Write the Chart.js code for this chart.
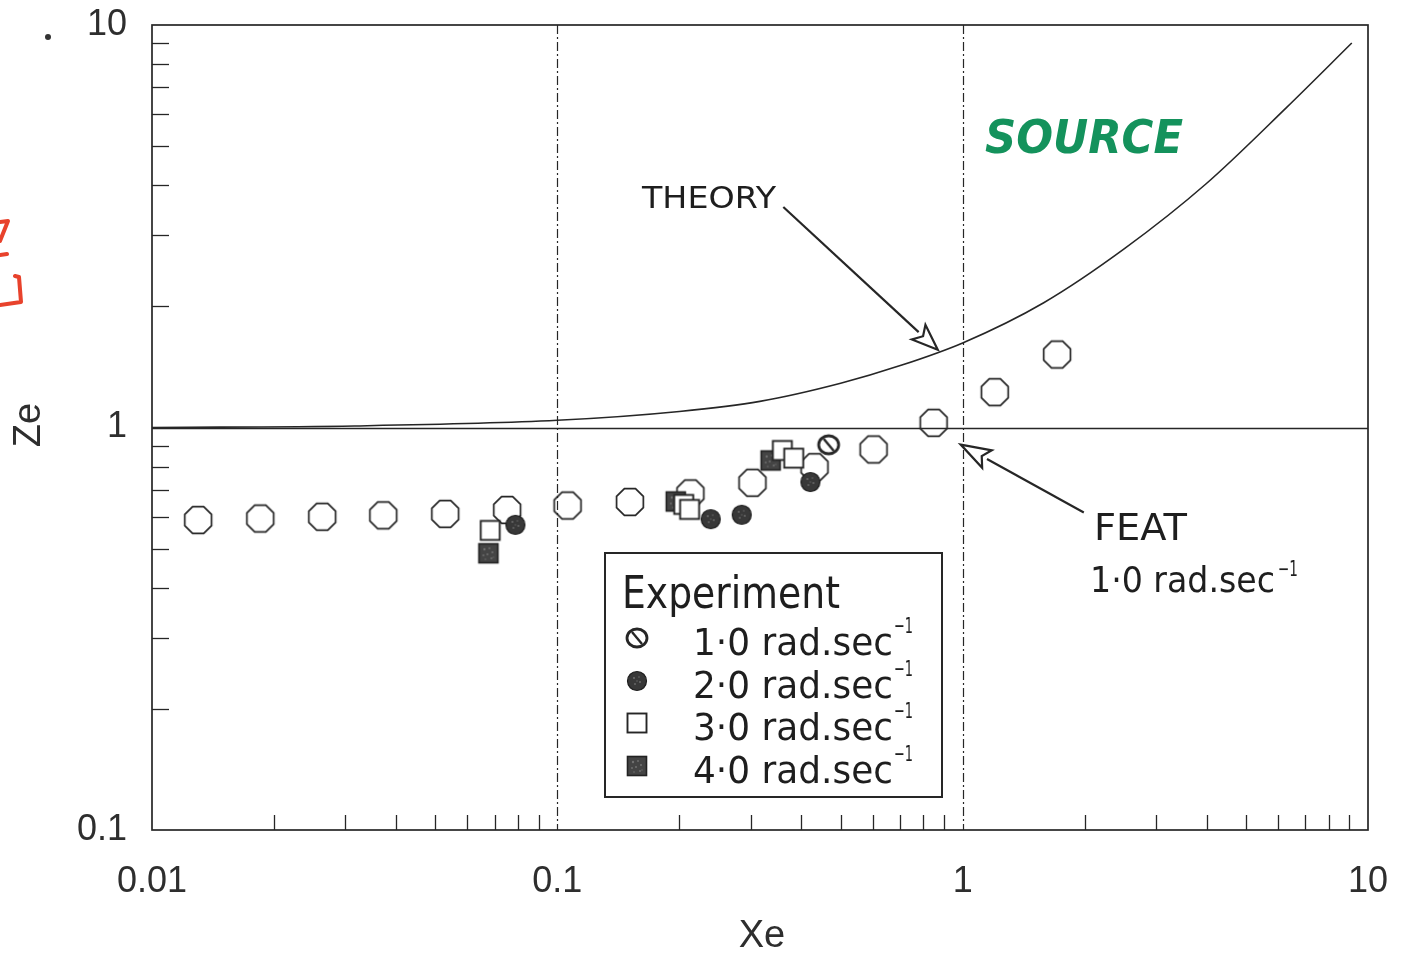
<!DOCTYPE html>
<html>
<head>
<meta charset="utf-8">
<script src="https://cdn.jsdelivr.net/npm/chart.js@4.4.1/dist/chart.umd.min.js"></script>
<style>
  html, body { margin: 0; padding: 0; background: #ffffff; }
  #wrap { width: 1408px; height: 957px; }
</style>
</head>
<body>
<div id="wrap"><canvas id="c" width="1408" height="957"></canvas></div>
<script>
// Axis decades and minor tick multipliers
const xDecades = [0.01, 0.1, 1, 10];
const yDecades = [0.1, 1, 10];
const minorSteps = [2, 3, 4, 5, 6, 7, 8, 9];

// Theory curve
const theoryXe = [0.01, 0.0316, 0.1, 0.2, 0.316, 0.5, 0.708, 1.0, 1.585, 2.512, 3.981, 6.31, 9.12];
const theoryZe = [1.0, 1.009, 1.042, 1.096, 1.161, 1.288, 1.429, 1.622, 2.042, 2.786, 4.027, 6.252, 9.02];

// FEAT, 1.0 rad/s
const featXe = [0.013, 0.0185, 0.0263, 0.0372, 0.0529, 0.0752, 0.106, 0.151, 0.213, 0.303, 0.431, 0.603, 0.848, 1.20, 1.71];
const featZe = [0.589, 0.594, 0.600, 0.605, 0.610, 0.624, 0.640, 0.653, 0.686, 0.729, 0.797, 0.882, 1.027, 1.224, 1.518];

// Experiment
const exp1Xe = [0.467];
const exp1Ze = [0.906];
const exp2Xe = [0.0788, 0.239, 0.285, 0.421];
const exp2Ze = [0.573, 0.592, 0.607, 0.732];
const exp3Xe = [0.0683, 0.205, 0.212, 0.359, 0.383];
const exp3Ze = [0.555, 0.644, 0.626, 0.877, 0.839];
const exp4Xe = [0.0676, 0.196, 0.336];
const exp4Ze = [0.487, 0.655, 0.828];

// Legend entries
const legendLabels = ['1·0 rad.sec', '2·0 rad.sec', '3·0 rad.sec', '4·0 rad.sec'];

// Arrow endpoints (tail, tip) in data units
const theoryArrowXe = [0.361, 0.868];
const theoryArrowZe = [3.53, 1.56];
const featArrowXe = [1.99, 0.989];
const featArrowZe = [0.615, 0.907];

const INK = '#262626';
const pts = (xs, ys) => xs.map((x, i) => ({ x: x, y: ys[i] }));

// ---------- marker glyphs ----------
function makeCanvas(w, h, draw) {
  const c = document.createElement('canvas');
  c.width = w; c.height = h;
  draw(c.getContext('2d'), w, h);
  return c;
}
function speckle(g, cx, cy, spots) {
  g.fillStyle = 'rgba(150,150,150,0.55)';
  spots.forEach(s => { g.beginPath(); g.arc(cx + s[0], cy + s[1], s[2], 0, Math.PI * 2); g.fill(); });
}
const octagonMarker = makeCanvas(34, 34, (g, w, h) => {
  const r = 14.5;
  g.beginPath();
  for (let i = 0; i < 8; i++) {
    const a = Math.PI / 8 + i * Math.PI / 4;
    const px = w / 2 + r * Math.cos(a), py = h / 2 + r * Math.sin(a);
    i ? g.lineTo(px, py) : g.moveTo(px, py);
  }
  g.closePath();
  g.strokeStyle = INK; g.lineWidth = 1.7; g.stroke();
});
const slashMarker = makeCanvas(28, 26, (g, w, h) => {
  g.beginPath(); g.ellipse(w / 2, h / 2, 10, 9, 0, 0, Math.PI * 2);
  g.fillStyle = '#fff'; g.fill();
  g.strokeStyle = INK; g.lineWidth = 2.8; g.stroke();
  g.beginPath(); g.moveTo(w / 2 - 5, h / 2 - 6); g.lineTo(w / 2 + 5, h / 2 + 6);
  g.lineWidth = 2.4; g.stroke();
});
const dotMarker = makeCanvas(24, 24, (g, w, h) => {
  g.beginPath(); g.arc(w / 2, h / 2, 9.5, 0, Math.PI * 2);
  g.fillStyle = '#383838'; g.fill();
  g.strokeStyle = '#1e1e1e'; g.lineWidth = 1.2; g.stroke();
  speckle(g, w / 2, h / 2, [[-3, -3, 1.1], [2, -4, 0.8], [3, 1, 1.0], [-2, 3, 0.9], [0, 0, 0.7]]);
});
const openSquareMarker = makeCanvas(24, 24, (g, w, h) => {
  g.fillStyle = '#fff'; g.fillRect(2.5, 2.5, 19, 19);
  g.strokeStyle = INK; g.lineWidth = 1.9; g.strokeRect(2.5, 2.5, 19, 19);
});
const filledSquareMarker = makeCanvas(24, 24, (g, w, h) => {
  g.fillStyle = '#444'; g.fillRect(2.5, 2.5, 19, 19);
  g.strokeStyle = '#222'; g.lineWidth = 1.6; g.strokeRect(2.5, 2.5, 19, 19);
  speckle(g, w / 2, h / 2, [[-4, -4, 1.2], [1, -5, 0.9], [4, -1, 1.1], [-5, 2, 0.9], [-1, 1, 1.0], [3, 5, 1.0], [-3, 6, 0.8], [5, 4, 0.7]]);
});

// ---------- helpers ----------
function fitText(g, text, x, baseline, width, font) {
  g.save();
  g.font = font;
  const w = g.measureText(text).width;
  g.translate(x, baseline);
  g.scale(width / w, 1);
  g.fillText(text, 0, 0);
  g.restore();
}
function arrow(g, x0, y0, x1, y1, len, half) {
  const dx = x1 - x0, dy = y1 - y0, d = Math.hypot(dx, dy);
  const ux = dx / d, uy = dy / d, nx = -uy, ny = ux;
  const bx = x1 - ux * len, by = y1 - uy * len;
  g.beginPath(); g.moveTo(x0, y0); g.lineTo(bx, by); g.stroke();
  g.beginPath();
  g.moveTo(x1, y1);
  g.lineTo(bx + nx * half, by + ny * half);
  g.lineTo(bx + ux * 6, by + uy * 6);
  g.lineTo(bx - nx * half, by - ny * half);
  g.closePath();
  g.fillStyle = '#fff'; g.fill(); g.stroke();
}

// ---------- frame, grid and minor ticks (under the data) ----------
const framePlugin = {
  id: 'frame',
  beforeDatasetsDraw(chart) {
    const g = chart.ctx, a = chart.chartArea, sx = chart.scales.x, sy = chart.scales.y;
    g.save();
    g.strokeStyle = INK;
    // dashed verticals at the inner decades
    g.lineWidth = 1.2; g.setLineDash([9, 3, 2, 3]);
    [0.1, 1].forEach(v => {
      const px = Math.round(sx.getPixelForValue(v)) + 0.5;
      g.beginPath(); g.moveTo(px, a.top); g.lineTo(px, a.bottom); g.stroke();
    });
    g.setLineDash([]);
    // solid line at Ze = 1
    g.lineWidth = 1.5;
    const py1 = Math.round(sy.getPixelForValue(1)) + 0.5;
    g.beginPath(); g.moveTo(a.left, py1); g.lineTo(a.right, py1); g.stroke();
    // minor ticks
    g.lineWidth = 1.3;
    xDecades.slice(0, 3).forEach(d => minorSteps.forEach(m => {
      const px = Math.round(sx.getPixelForValue(d * m)) + 0.5;
      g.beginPath(); g.moveTo(px, a.bottom); g.lineTo(px, a.bottom - 15); g.stroke();
    }));
    yDecades.slice(0, 2).forEach(d => minorSteps.forEach(m => {
      const py = Math.round(sy.getPixelForValue(d * m)) + 0.5;
      g.beginPath(); g.moveTo(a.left, py); g.lineTo(a.left + 17, py); g.stroke();
    }));
    // frame
    g.lineWidth = 1.7;
    g.strokeRect(a.left, a.top, a.right - a.left, a.bottom - a.top);
    g.restore();
  }
};

// ---------- titles, legend and annotations (over the data) ----------
const overlayPlugin = {
  id: 'overlay',
  afterDraw(chart) {
    const g = chart.ctx, sx = chart.scales.x, sy = chart.scales.y;
    g.save();
    // axis titles
    g.fillStyle = '#2e2e2e';
    g.font = '38px "Liberation Sans", Arial, sans-serif';
    g.textAlign = 'center'; g.textBaseline = 'middle';
    g.fillText('Xe', 762, 937);
    g.save(); g.translate(30, 425); g.rotate(-Math.PI / 2); g.fillText('Ze', 0, 0); g.restore();

    // legend box
    const lx = 605, ly = 553, lw = 337, lh = 244;
    g.fillStyle = '#fff'; g.fillRect(lx, ly, lw, lh);
    g.strokeStyle = INK; g.lineWidth = 2; g.strokeRect(lx, ly, lw, lh);
    g.fillStyle = '#1e1e1e'; g.textAlign = 'left'; g.textBaseline = 'alphabetic';
    fitText(g, 'Experiment', 622, 608, 218, '44px "DejaVu Sans", sans-serif');
    const glyphs = [slashMarker, dotMarker, openSquareMarker, filledSquareMarker];
    const rowBase = [655, 698, 740, 783];
    legendLabels.forEach((t, i) => {
      const gl = glyphs[i];
      g.drawImage(gl, 637 - gl.width / 2, rowBase[i] - 17 - gl.height / 2);
      fitText(g, t, 693, rowBase[i], 200, '38px "DejaVu Sans", sans-serif');
      fitText(g, '−1', 894, rowBase[i] - 22, 19, '22px "DejaVu Sans", sans-serif');
    });

    // arrows
    g.strokeStyle = INK; g.lineWidth = 2.2;
    arrow(g, sx.getPixelForValue(theoryArrowXe[0]), sy.getPixelForValue(theoryArrowZe[0]),
             sx.getPixelForValue(theoryArrowXe[1]), sy.getPixelForValue(theoryArrowZe[1]), 26, 10);
    arrow(g, sx.getPixelForValue(featArrowXe[0]), sy.getPixelForValue(featArrowZe[0]),
             sx.getPixelForValue(featArrowXe[1]), sy.getPixelForValue(featArrowZe[1]), 30, 10);

    // annotation text
    g.fillStyle = '#1e1e1e';
    fitText(g, 'THEORY', 642, 208, 134, '31px "DejaVu Sans", sans-serif');
    fitText(g, 'FEAT', 1094, 540, 93, '38px "DejaVu Sans", sans-serif');
    fitText(g, '1·0 rad.sec', 1090, 592, 185, '36px "DejaVu Sans", sans-serif');
    fitText(g, '−1', 1278, 576, 20, '21px "DejaVu Sans", sans-serif');

    // green note
    g.fillStyle = '#14925c';
    fitText(g, 'SOURCE', 985, 153, 198, 'italic bold 46px "DejaVu Sans", sans-serif');

    // red pen marks at the left edge
    g.strokeStyle = '#e8422c'; g.lineWidth = 4; g.lineCap = 'round'; g.lineJoin = 'round';
    g.beginPath();
    g.moveTo(0, 222); g.lineTo(8, 221); g.lineTo(0, 241);
    g.moveTo(0, 255); g.lineTo(7, 254);
    g.moveTo(15, 276); g.lineTo(19, 277); g.lineTo(21, 302); g.lineTo(0, 305);
    g.stroke();
    // stray ink dot
    g.fillStyle = '#333';
    g.beginPath(); g.arc(48, 37, 3, 0, Math.PI * 2); g.fill();
    g.restore();
  }
};

const tickFont = { family: '"Liberation Sans", Arial, sans-serif', size: 36 };

new Chart(document.getElementById('c'), {
  type: 'scatter',
  data: {
    datasets: [
      { label: 'Theory', type: 'line', data: pts(theoryXe, theoryZe), borderColor: INK, borderWidth: 1.6,
        pointRadius: 0, fill: false, cubicInterpolationMode: 'monotone', order: 6 },
      { label: 'FEAT 1.0 rad.sec-1', data: pts(featXe, featZe), pointStyle: octagonMarker, pointRadius: 14, order: 5 },
      { label: '4.0 rad.sec-1', data: pts(exp4Xe, exp4Ze), pointStyle: filledSquareMarker, pointRadius: 10, order: 4 },
      { label: '3.0 rad.sec-1', data: pts(exp3Xe, exp3Ze), pointStyle: openSquareMarker, pointRadius: 10, order: 3 },
      { label: '2.0 rad.sec-1', data: pts(exp2Xe, exp2Ze), pointStyle: dotMarker, pointRadius: 10, order: 2 },
      { label: '1.0 rad.sec-1', data: pts(exp1Xe, exp1Ze), pointStyle: slashMarker, pointRadius: 11, order: 1 }
    ]
  },
  options: {
    responsive: false,
    animation: false,
    events: [],
    layout: { padding: { top: 25, right: 40, left: 0, bottom: 0 } },
    plugins: { legend: { display: false }, tooltip: { enabled: false } },
    scales: {
      x: {
        type: 'logarithmic', min: 0.01, max: 10,
        afterBuildTicks: s => { s.ticks = xDecades.map(v => ({ value: v })); },
        afterFit: s => { s.height = 127; s.paddingLeft = 0; s.paddingRight = 0; },
        ticks: { callback: v => String(v), font: tickFont, color: '#2e2e2e', padding: 30, maxRotation: 0, autoSkip: false },
        grid: { display: false, drawTicks: false },
        border: { display: false }
      },
      y: {
        type: 'logarithmic', min: 0.1, max: 10,
        afterBuildTicks: s => { s.ticks = yDecades.map(v => ({ value: v })); },
        afterFit: s => { s.width = 152; s.paddingTop = 0; s.paddingBottom = 0; },
        ticks: { callback: v => String(v), font: tickFont, color: '#2e2e2e', padding: 25, autoSkip: false },
        grid: { display: false, drawTicks: false },
        border: { display: false }
      }
    }
  },
  plugins: [framePlugin, overlayPlugin]
});
</script>
</body>
</html>
